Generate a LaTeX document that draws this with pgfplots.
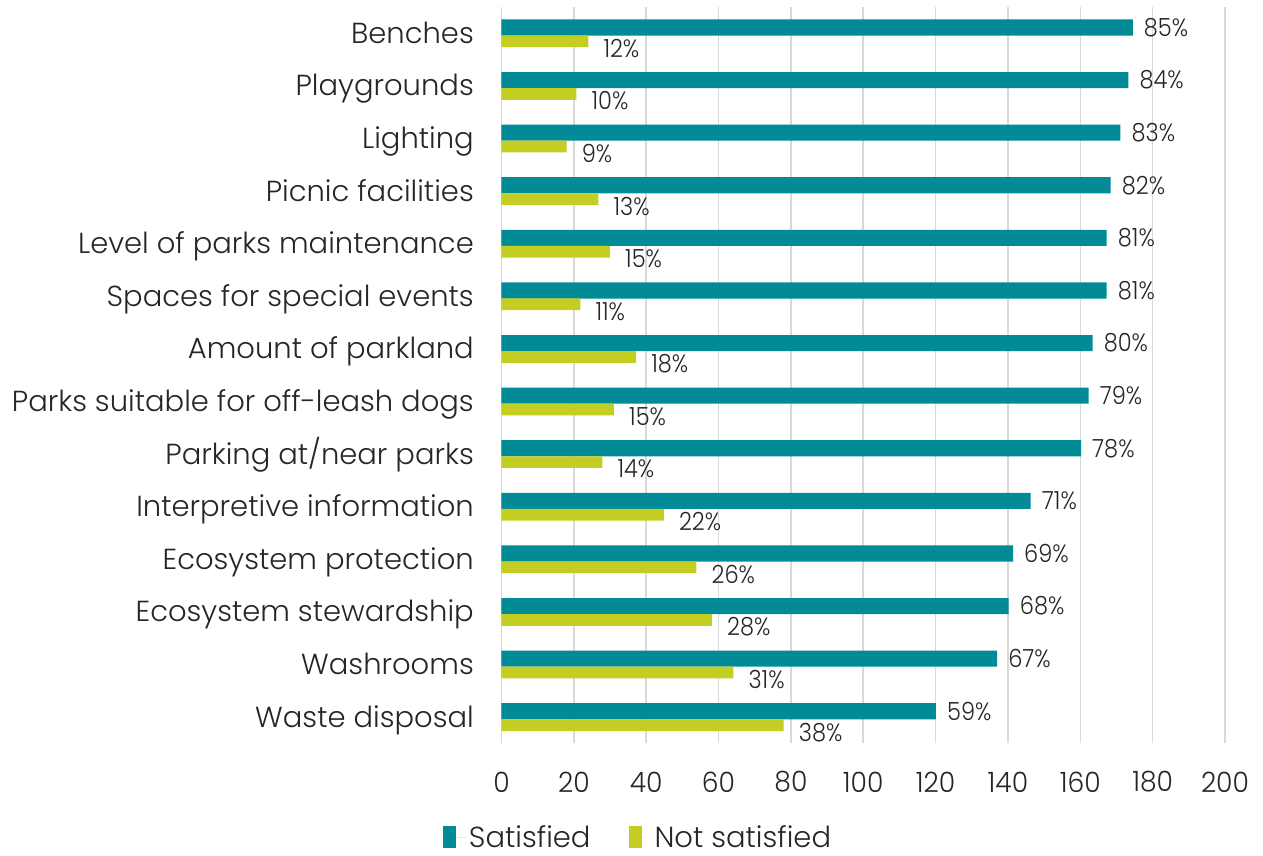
\documentclass[border=0pt]{standalone}
\usepackage{fontspec}
\setmainfont{Poppins Light}
\newfontfamily\numfont{Poppins Light}[FakeStretch=0.9]
\newfontfamily\tickfont{Poppins Light}[FakeStretch=0.95]
\usepackage{pgfplots}
\pgfplotsset{compat=1.18}
\definecolor{teal1}{HTML}{008B96}
\definecolor{lime1}{HTML}{C3CD22}
\definecolor{txt}{HTML}{262626}
\definecolor{gridc}{HTML}{D9D9D9}
\pgfplotstableread{
y sat satl not notl
13 174.5 85 24.0 12
12 173.3 84 20.7 10
11 171.1 83 18.0 9
10 168.4 82 26.8 13
9 167.3 81 30.0 15
8 167.3 81 21.8 11
7 163.4 80 37.2 18
6 162.3 79 31.1 15
5 160.2 78 27.9 14
4 146.3 71 44.9 22
3 141.4 69 53.9 26
2 140.2 68 58.2 28
1 137.0 67 64.1 31
0 120.1 59 78.0 38
}\data
\begin{document}
\begin{tikzpicture}
\useasboundingbox (-501.5pt,-112.6pt) rectangle (761.5pt,743.4pt);
\begin{axis}[
  at={(0,0)}, anchor=south west,
  scale only axis, width=723.5pt, height=736.4pt,
  xmin=0, xmax=200, ymin=-0.5, ymax=13.5,
  xbar,
  xtick={0,20,...,200},
  ytick={0,...,13},
  yticklabels={Waste disposal,Washrooms,Ecosystem stewardship,Ecosystem protection,Interpretive information\ ,Parking at/near parks,Parks suitable for off-leash dogs,Amount of parkland,Spaces for special events,Level of parks maintenance,Picnic facilities,Lighting,Playgrounds,Benches},
  xmajorgrids, grid style={draw=gridc, line width=1.5pt},
  axis line style={draw=none},
  major tick length=0pt,
  /pgf/number format/assume math mode=true,
  xticklabel style={font=\tickfont\fontsize{28}{32}\selectfont, text=txt, anchor=center, inner sep=0pt, yshift=-38.6pt},
  yticklabel style={font=\fontsize{29}{34}\selectfont, text=txt, anchor=base east, inner sep=0pt, xshift=-27.5pt, yshift=-10pt},
  clip=false,
  legend columns=2,
  legend style={draw=none, fill=none, font=\fontsize{29}{34}\selectfont, text=txt,
    at={(axis description cs:0.1887,0)}, anchor=center, yshift=-94pt,
    /tikz/every even column/.append style={column sep=36pt}},
  legend image code/.code={\fill[#1,draw=none] (0pt,-11pt) rectangle (13pt,11pt); \path (0pt,0pt) -- (24pt,0pt);},
]
\addplot[fill=teal1, draw=none, bar width=16.1pt, bar shift=5.8pt,
  nodes near coords, point meta=explicit,
  nodes near coords={\pgfmathprintnumber{\pgfplotspointmeta}\%},
  every node near coord/.append style={anchor=west, inner sep=0pt, xshift=11pt, font=\numfont\fontsize{25}{30}\selectfont, text=txt, /pgf/number format/assume math mode=true}]
  table[x=sat, y=y, meta=satl]{\data};
\addplot[fill=lime1, draw=none, bar width=11.7pt, bar shift=-8.05pt,
  nodes near coords, point meta=explicit,
  nodes near coords={\pgfmathprintnumber{\pgfplotspointmeta}\%},
  every node near coord/.append style={anchor=west, inner sep=0pt, xshift=15pt, yshift=-7pt, font=\numfont\fontsize{25}{30}\selectfont, text=txt, /pgf/number format/assume math mode=true}]
  table[x=not, y=y, meta=notl]{\data};
\legend{Satisfied, Not satisfied}
\end{axis}
\end{tikzpicture}
\end{document}
